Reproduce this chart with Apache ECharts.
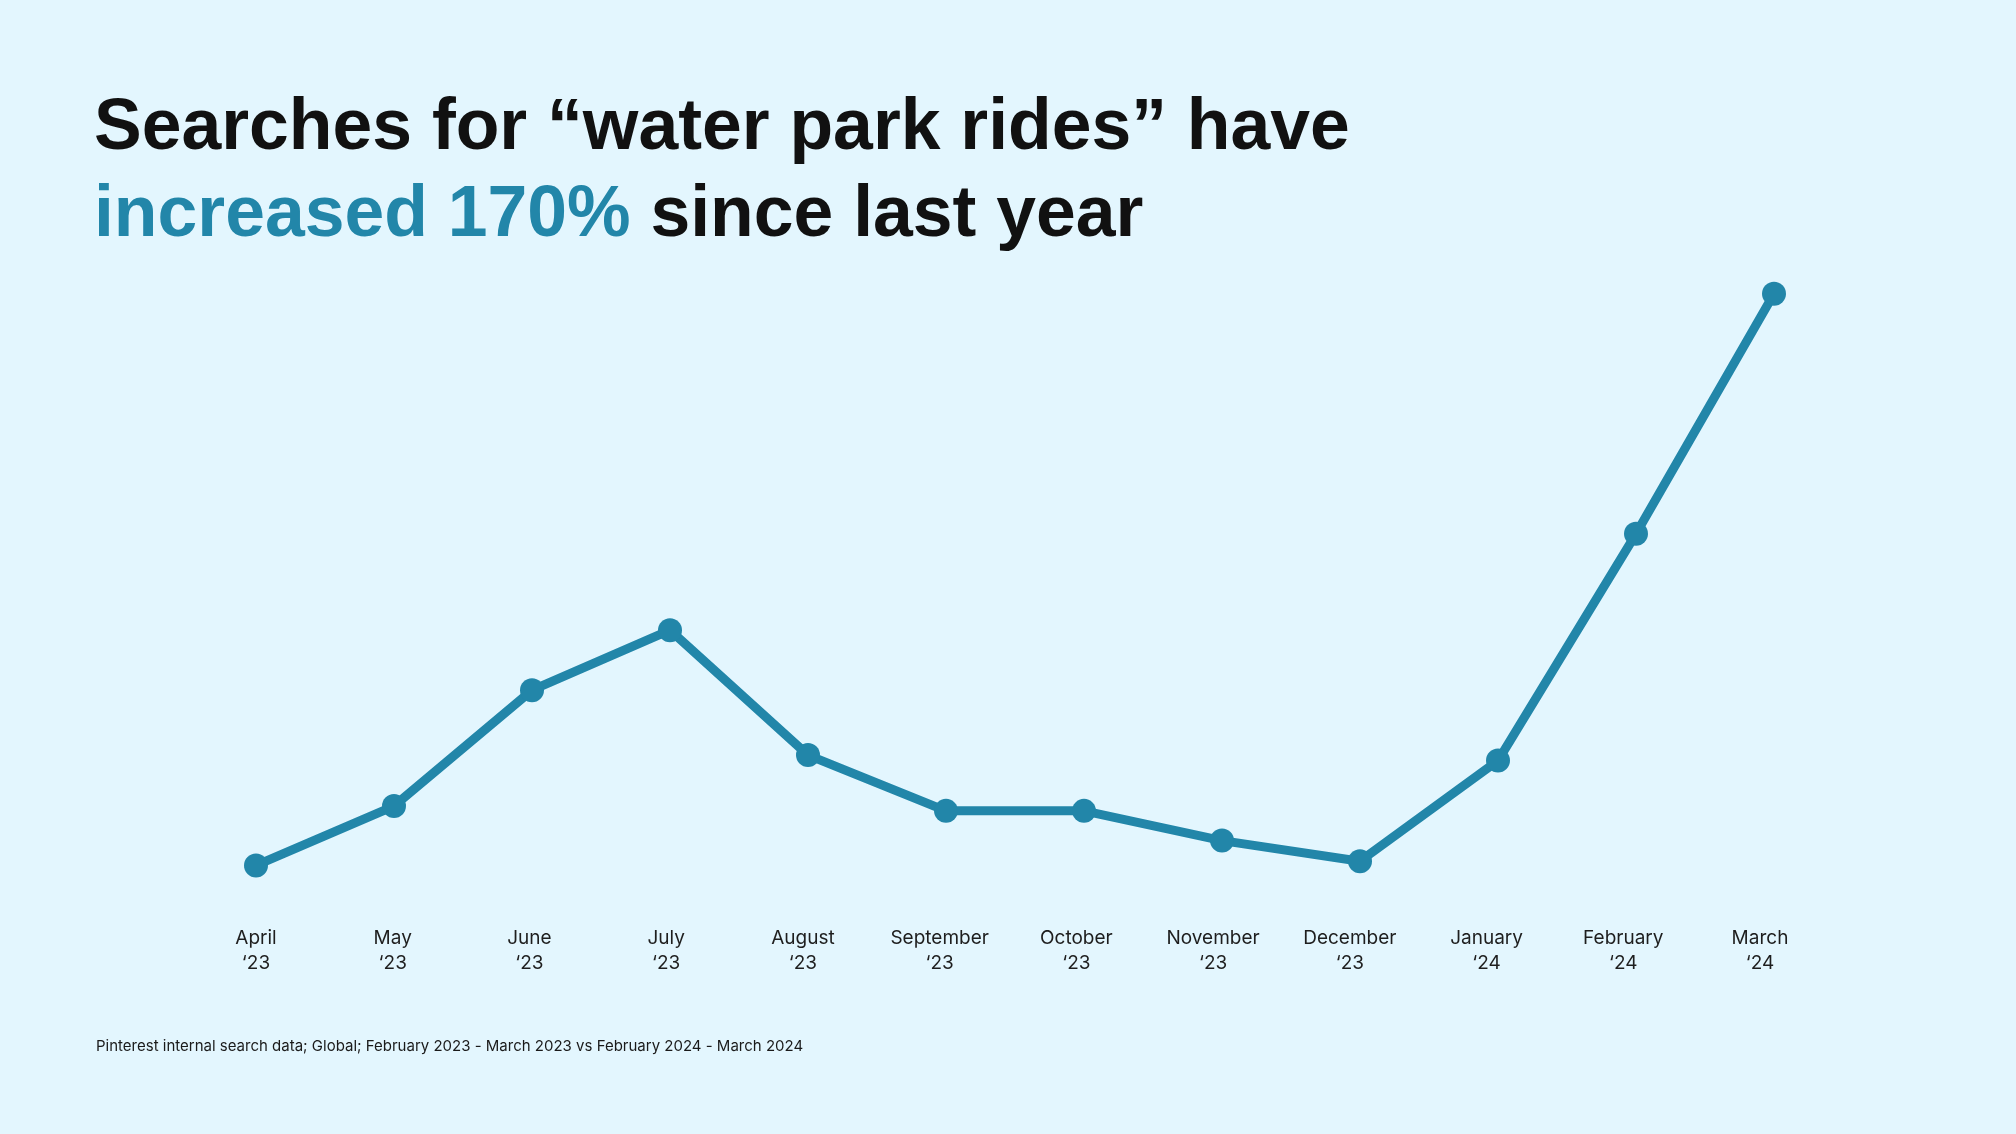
<!DOCTYPE html>
<html>
<head>
<meta charset="utf-8">
<script src="https://cdn.jsdelivr.net/npm/echarts@6/dist/echarts.min.js"></script>
<style>
html,body{margin:0;padding:0;background:#e3f6fe;}
#chart{width:2016px;height:1134px;}
</style>
</head>
<body>
<div id="chart"></div>
<script>
// Data
const months = ['April','May','June','July','August','September','October','November','December','January','February','March'];
const years = ['‘23','‘23','‘23','‘23','‘23','‘23','‘23','‘23','‘23','‘24','‘24','‘24'];
const searchIndex = [5.7, 15.5, 34.6, 44.5, 23.9, 14.7, 14.7, 9.8, 6.4, 23.0, 60.4, 100];
const titleLine1 = 'Searches for “water park rides” have';
const titleHighlight = 'increased 170%';
const titleRest = 'since last year';
const footnote = 'Pinterest internal search data; Global; February 2023 - March 2023 vs February 2024 - March 2024';

const categories = months.map((m, i) => m + '\n' + years[i]);

const chart = echarts.init(document.getElementById('chart'), null, {renderer: 'canvas'});
const blue = '#2286a9';
const font = '"Liberation Sans", Arial, sans-serif';
const labelFont = 'Inter, "Liberation Sans", sans-serif';

chart.setOption({
  backgroundColor: '#e3f6fe',
  animation: false,
  title: {
    left: 94,
    top: 86,
    padding: 0,
    text: '{a|' + titleLine1 + '}\n{b|' + titleHighlight + '}{a| ' + titleRest + '}',
    textStyle: {
      rich: {
        a: {fontFamily: font, fontWeight: 'bold', fontSize: 71.5, lineHeight: 87, color: '#111111'},
        b: {fontFamily: font, fontWeight: 'bold', fontSize: 71.5, lineHeight: 87, color: blue}
      }
    }
  },
  grid: [
    {left: 256, right: 242, top: 293.7, bottom: 234, containLabel: false},
    {left: 256, right: 256, top: 293.7, bottom: 234, containLabel: false}
  ],
  xAxis: [{
    type: 'category',
    gridIndex: 0,
    data: categories,
    boundaryGap: false,
    axisLine: {show: false},
    axisTick: {show: false},
    splitLine: {show: false},
    axisLabel: {show: false}
  }, {
    type: 'category',
    gridIndex: 1,
    data: categories,
    boundaryGap: false,
    axisLine: {show: false},
    axisTick: {show: false},
    splitLine: {show: false},
    axisLabel: {
      interval: 0,
      margin: 26,
      fontFamily: labelFont,
      fontSize: 19,
      lineHeight: 25,
      color: '#1e1e1e',
      align: 'center'
    }
  }],
  yAxis: [{
    type: 'value',
    gridIndex: 0,
    min: 0,
    max: 100,
    show: false,
    splitLine: {show: false}
  }, {
    type: 'value',
    gridIndex: 1,
    min: 0,
    max: 100,
    show: false,
    splitLine: {show: false}
  }],
  series: [{
    type: 'line',
    xAxisIndex: 0,
    yAxisIndex: 0,
    data: searchIndex,
    symbol: 'circle',
    symbolSize: 24,
    showSymbol: true,
    lineStyle: {color: blue, width: 9},
    itemStyle: {color: blue},
    z: 2
  }],
  graphic: [{
    type: 'text',
    left: 96,
    top: 1039,
    style: {
      text: footnote,
      fontFamily: labelFont,
      fontSize: 15,
      fill: '#1a1a1a'
    }
  }]
});
</script>
</body>
</html>
